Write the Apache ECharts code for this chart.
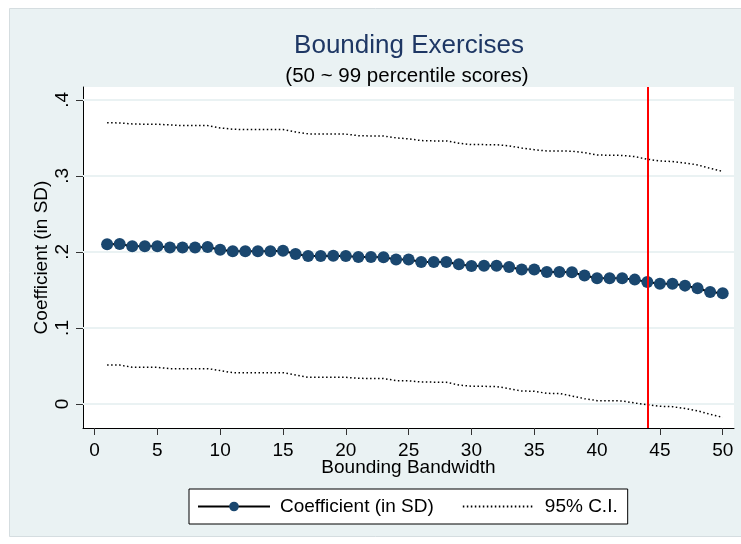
<!DOCTYPE html>
<html>
<head>
<meta charset="utf-8">
<style>
html, body { margin: 0; padding: 0; background: #fff; }
#main { width: 741px; height: 544px; }
</style>
<script src="https://cdn.jsdelivr.net/npm/echarts@6/dist/echarts.min.js"></script>
</head>
<body>
<div id="main"></div>
<script>
// bounding bandwidth 1..50
var bandwidth = [1, 2, 3, 4, 5, 6, 7, 8, 9, 10,
    11, 12, 13, 14, 15, 16, 17, 18, 19, 20,
    21, 22, 23, 24, 25, 26, 27, 28, 29, 30,
    31, 32, 33, 34, 35, 36, 37, 38, 39, 40,
    41, 42, 43, 44, 45, 46, 47, 48, 49, 50];
var coef = [0.210, 0.2105, 0.2075, 0.2075, 0.2075, 0.206, 0.206, 0.206, 0.2065, 0.203,
    0.201, 0.201, 0.201, 0.201, 0.2015, 0.1974, 0.1947, 0.1947, 0.195, 0.1947,
    0.1934, 0.1934, 0.193, 0.190, 0.190, 0.1868, 0.1868, 0.1868, 0.1838, 0.1816,
    0.182, 0.182, 0.1803, 0.1768, 0.1768, 0.1737, 0.1737, 0.1733, 0.1689, 0.1654,
    0.1654, 0.1654, 0.1636, 0.1605, 0.1583, 0.1583, 0.1557, 0.1522, 0.1474, 0.1456];
var ciUpper = [0.370, 0.3697, 0.3684, 0.368, 0.368, 0.3671, 0.3662, 0.3662, 0.3662, 0.3632,
    0.3614, 0.361, 0.361, 0.361, 0.361, 0.3579, 0.3553, 0.3553, 0.3553, 0.355,
    0.353, 0.3526, 0.3526, 0.350, 0.3488, 0.3465, 0.3461, 0.3461, 0.343, 0.3412,
    0.3412, 0.341, 0.3395, 0.3368, 0.3345, 0.3329, 0.3329, 0.3325, 0.3307, 0.3276,
    0.3272, 0.327, 0.3254, 0.322, 0.3197, 0.319, 0.317, 0.3145, 0.310, 0.306];
var ciLower = [0.0513, 0.0513, 0.0482, 0.0482, 0.0482, 0.0465, 0.0465, 0.0465, 0.0465, 0.0439,
    0.0412, 0.0412, 0.0412, 0.0412, 0.0412, 0.0382, 0.0351, 0.0351, 0.0351, 0.0351,
    0.0338, 0.0335, 0.0335, 0.0307, 0.0305, 0.029, 0.0287, 0.0285, 0.025, 0.0233,
    0.0232, 0.023, 0.0202, 0.0171, 0.0167, 0.014, 0.0138, 0.0105, 0.007, 0.0044,
    0.0043, 0.004, 0.0013, -0.001, -0.003, -0.0035, -0.006, -0.009, -0.0136, -0.0175];
var xTicks = [0, 5, 10, 15, 20, 25, 30, 35, 40, 45, 50];
var yTicks = [0, 0.1, 0.2, 0.3, 0.4];
var cutoff = 44;

var font = 'Liberation Sans, Arial, sans-serif';

function pairs(ys) {
    var out = [];
    for (var i = 0; i < bandwidth.length; i++) {
        out.push([bandwidth[i], ys[i]]);
    }
    return out;
}

var gridLines = yTicks.map(function(v) { return { yAxis: v }; });

var chart = echarts.init(document.getElementById('main'));
var option = {
    backgroundColor: '#fff',
    animation: false,
    textStyle: { fontFamily: font },
    graphic: [{
        type: 'rect',
        z: -10,
        shape: { x: 9.5, y: 8.5, width: 740, height: 528 },
        style: { fill: '#EAF2F3', stroke: '#D5DDE0', lineWidth: 1 }
    }],
    title: [{
        text: 'Bounding Exercises',
        left: 404,
        top: 28,
        textAlign: 'center',
        textStyle: { fontSize: 26, fontWeight: 'normal', color: '#1E3764', fontFamily: font }
    }, {
        text: '(50 ~ 99 percentile scores)',
        left: 402,
        top: 61,
        textAlign: 'center',
        textStyle: { fontSize: 20.5, fontWeight: 'normal', color: '#000', fontFamily: font }
    }],
    legend: {
        left: 189,
        top: 489,
        orient: 'horizontal',
        backgroundColor: '#fff',
        borderColor: '#000',
        borderWidth: 1,
        borderRadius: 0,
        padding: [8, 10, 8, 8],
        itemWidth: 72,
        itemHeight: 12,
        itemGap: 28,
        data: ['Coefficient (in SD)', '95% C.I.'],
        textStyle: { fontSize: 19, color: '#000', fontFamily: font, padding: [0, 0, 0, 5] }
    },
    grid: {
        left: 83,
        right: 7,
        top: 87,
        bottom: 116,
        show: true,
        backgroundColor: '#fff',
        borderWidth: 0
    },
    xAxis: {
        type: 'value',
        min: -0.92,
        max: 50.9,
        name: 'Bounding Bandwidth',
        nameLocation: 'middle',
        nameGap: 30,
        nameMoveOverlap: false,
        nameTextStyle: { fontSize: 19, color: '#000', fontFamily: font },
        axisLine: { onZero: false, lineStyle: { color: '#000', width: 1 } },
        axisTick: { show: true, length: 7, customValues: xTicks, lineStyle: { color: '#333' } },
        axisLabel: { fontSize: 19, color: '#000', margin: 13, customValues: xTicks, fontFamily: font },
        splitLine: { show: false }
    },
    yAxis: {
        type: 'value',
        min: -0.0316,
        max: 0.417,
        name: 'Coefficient (in SD)',
        nameLocation: 'middle',
        nameGap: 32,
        nameMoveOverlap: false,
        nameTextStyle: { fontSize: 19, color: '#000', fontFamily: font },
        axisLine: { show: true, onZero: false, lineStyle: { color: '#000', width: 1 } },
        axisTick: { show: true, length: 7, customValues: yTicks, lineStyle: { color: '#333' } },
        axisLabel: {
            fontSize: 19,
            color: '#000',
            rotate: 90,
            margin: 11,
            customValues: yTicks,
            fontFamily: font,
            formatter: function(v) {
                if (v === 0) return '0';
                return String(Math.round(v * 10) / 10).replace('0.', '.');
            }
        },
        splitLine: { show: false }
    },
    series: [{
        // grid lines under the data
        name: 'grid',
        type: 'line',
        data: [],
        z: 1,
        silent: true,
        markLine: {
            z: 1,
            silent: true,
            symbol: 'none',
            label: { show: false },
            lineStyle: { color: '#EAF2F3', width: 2, type: 'solid' },
            data: gridLines
        }
    }, {
        name: '95% C.I.',
        type: 'line',
        z: 2,
        data: pairs(ciUpper),
        showSymbol: false,
        symbol: 'none',
        lineStyle: { color: '#000', width: 1.5, type: [1.5, 2.5] },
        itemStyle: { color: 'rgba(0,0,0,0)' }
    }, {
        name: '95% C.I.',
        type: 'line',
        z: 2,
        data: pairs(ciLower),
        showSymbol: false,
        symbol: 'none',
        lineStyle: { color: '#000', width: 1.5, type: [1.5, 2.5] },
        itemStyle: { color: 'rgba(0,0,0,0)' }
    }, {
        name: 'Coefficient (in SD)',
        type: 'line',
        z: 3,
        data: pairs(coef),
        symbol: 'circle',
        symbolSize: 12,
        lineStyle: { color: '#000', width: 2 },
        itemStyle: { color: '#1A476F' },
        markLine: {
            z: 6,
            silent: true,
            symbol: 'none',
            label: { show: false },
            lineStyle: { color: '#FF0000', width: 2, type: 'solid' },
            data: [{ xAxis: cutoff }]
        }
    }]
};
chart.setOption(option);
</script>
</body>
</html>
